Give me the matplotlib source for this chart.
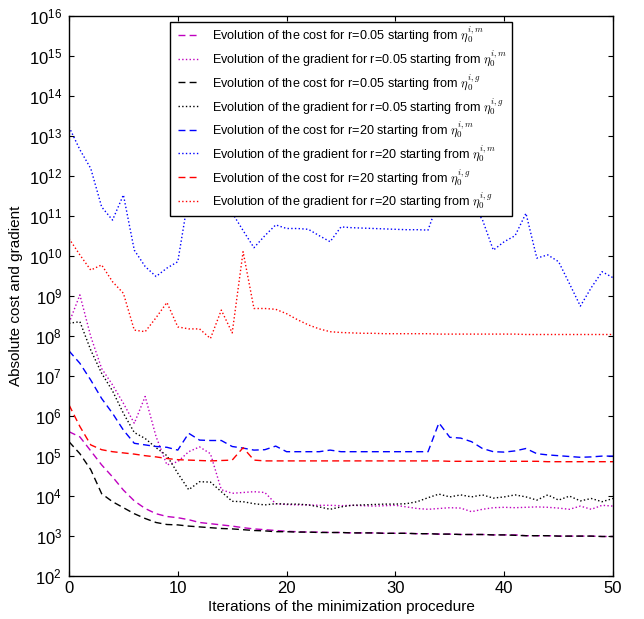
import numpy as np
import matplotlib
matplotlib.use("Agg")
import matplotlib.pyplot as plt
from matplotlib.patches import Rectangle
from matplotlib.ticker import NullLocator

plt.rcParams["font.family"] = ["Liberation Sans", "DejaVu Sans"]
plt.rcParams["mathtext.fontset"] = "cm"
plt.rcParams["xtick.direction"] = "in"
plt.rcParams["ytick.direction"] = "in"
plt.rcParams["xtick.top"] = True
plt.rcParams["ytick.right"] = True

iterations = np.arange(0, 51)
x_ticks = [0, 10, 20, 30, 40, 50]
y_decades = list(range(2, 17))

# log10 of the values
cost_r005_m = [5.6, 5.47, 5.12, 4.77, 4.47, 4.14, 3.87, 3.68, 3.55, 3.48, 3.45,
               3.4, 3.33, 3.3, 3.27, 3.24, 3.2, 3.17, 3.15, 3.13, 3.11,
               3.1, 3.09, 3.09, 3.08, 3.08, 3.07, 3.07, 3.07, 3.06, 3.06,
               3.06, 3.05, 3.05, 3.04, 3.04, 3.03, 3.03, 3.03, 3.02, 3.02,
               3.02, 3.0, 3.0, 3.0, 2.99, 2.99, 2.99, 2.99, 2.98, 2.98]
grad_r005_m = [8.32, 9.02, 7.98, 7.18, 6.77, 6.31, 5.81, 6.48, 5.48, 4.77, 4.85,
               5.1, 5.22, 5.05, 4.15, 4.06, 4.08, 4.1, 4.08, 3.8, 3.78,
               3.77, 3.77, 3.76, 3.76, 3.75, 3.76, 3.75, 3.74, 3.75, 3.76,
               3.72, 3.68, 3.66, 3.68, 3.7, 3.69, 3.6, 3.66, 3.7, 3.71,
               3.7, 3.71, 3.72, 3.71, 3.69, 3.66, 3.74, 3.66, 3.76, 3.74]
cost_r005_g = [5.35, 5.05, 4.65, 4.05, 3.85, 3.7, 3.55, 3.43, 3.33, 3.28, 3.27,
               3.24, 3.22, 3.2, 3.18, 3.17, 3.15, 3.13, 3.12, 3.1, 3.1,
               3.09, 3.09, 3.08, 3.08, 3.08, 3.07, 3.07, 3.07, 3.06, 3.06,
               3.06, 3.05, 3.05, 3.04, 3.04, 3.03, 3.03, 3.03, 3.02, 3.02,
               3.01, 3.0, 3.0, 3.0, 2.99, 2.99, 2.99, 2.99, 2.98, 2.98]
grad_r005_g = [8.31, 8.35, 7.64, 7.06, 6.62, 6.06, 5.58, 5.43, 5.2, 5.0, 4.56,
               4.15, 4.35, 4.34, 4.1, 3.86, 3.85, 3.8, 3.77, 3.8, 3.79,
               3.79, 3.77, 3.72, 3.66, 3.72, 3.76, 3.77, 3.78, 3.79, 3.79,
               3.8, 3.85, 3.95, 4.04, 3.97, 4.02, 3.97, 4.02, 3.94, 3.97,
               4.02, 3.97, 3.89, 4.02, 3.89, 3.99, 3.87, 3.93, 3.85, 3.93]
cost_r20_m = [7.62, 7.31, 6.89, 6.43, 6.06, 5.64, 5.31, 5.27, 5.23, 5.21, 5.14,
              5.56, 5.39, 5.38, 5.38, 5.23, 5.19, 5.14, 5.15, 5.24, 5.1,
              5.1, 5.1, 5.1, 5.14, 5.1, 5.1, 5.1, 5.1, 5.1, 5.1,
              5.1, 5.1, 5.1, 5.82, 5.46, 5.44, 5.35, 5.18, 5.1, 5.09,
              5.12, 5.18, 5.05, 5.02, 5.0, 4.98, 4.96, 4.97, 4.99, 4.99]
grad_r20_m = [13.22, 12.65, 12.18, 11.22, 10.89, 11.52, 10.14, 9.73, 9.48, 9.69, 9.85,
              11.5, 11.7, 11.4, 11.6, 11.07, 10.63, 10.2, 10.5, 10.77, 10.68,
              10.68, 10.66, 10.5, 10.35, 10.72, 10.7, 10.69, 10.68, 10.67, 10.66,
              10.65, 10.65, 10.64, 11.4, 11.7, 11.5, 11.3, 10.9, 10.14, 10.35,
              10.5, 11.06, 9.94, 10.02, 9.85, 9.3, 8.74, 9.2, 9.6, 9.45]
cost_r20_g = [6.27, 5.73, 5.27, 5.15, 5.1, 5.07, 5.04, 5.0, 4.97, 4.93, 4.9,
              4.89, 4.88, 4.87, 4.88, 4.89, 5.2, 4.89, 4.87, 4.87, 4.87,
              4.87, 4.87, 4.87, 4.87, 4.87, 4.87, 4.87, 4.87, 4.87, 4.87,
              4.87, 4.87, 4.87, 4.87, 4.86, 4.86, 4.86, 4.86, 4.86, 4.86,
              4.86, 4.86, 4.86, 4.85, 4.85, 4.85, 4.85, 4.85, 4.85, 4.85]
grad_r20_g = [10.43, 10.02, 9.64, 9.77, 9.35, 9.06, 8.14, 8.1, 8.45, 8.83, 8.22,
              8.17, 8.17, 7.93, 8.64, 8.07, 10.1, 8.68, 8.68, 8.66, 8.55,
              8.4, 8.27, 8.17, 8.1, 8.08, 8.07, 8.06, 8.06, 8.05, 8.05,
              8.05, 8.05, 8.05, 8.04, 8.04, 8.04, 8.04, 8.04, 8.04, 8.04,
              8.04, 8.03, 8.03, 8.03, 8.03, 8.03, 8.03, 8.03, 8.03, 8.03]

series = [
    (cost_r005_m, "m", "--", r"Evolution of the cost for r=0.05 starting from $\eta_0^{i,m}$"),
    (grad_r005_m, "m", ":", r"Evolution of the gradient for r=0.05 starting from $\eta_0^{i,m}$"),
    (cost_r005_g, "k", "--", r"Evolution of the cost for r=0.05 starting from $\eta_0^{i,g}$"),
    (grad_r005_g, "k", ":", r"Evolution of the gradient for r=0.05 starting from $\eta_0^{i,g}$"),
    (cost_r20_m, "b", "--", r"Evolution of the cost for r=20 starting from $\eta_0^{i,m}$"),
    (grad_r20_m, "b", ":", r"Evolution of the gradient for r=20 starting from $\eta_0^{i,m}$"),
    (cost_r20_g, "r", "--", r"Evolution of the cost for r=20 starting from $\eta_0^{i,g}$"),
    (grad_r20_g, "r", ":", r"Evolution of the gradient for r=20 starting from $\eta_0^{i,g}$"),
]
colors = {"m": (0.75, 0, 0.75), "k": "black", "b": "blue", "r": "red"}

fig = plt.figure(figsize=(6.44, 6.19), dpi=100, facecolor="white")
ax = fig.add_axes([69 / 644, 43.3 / 619, 544 / 644, 560 / 619])

for vals, c, ls, label in series:
    y = 10.0 ** np.array(vals)
    if ls == "--":
        ax.plot(iterations, y, color=colors[c], linestyle=(0, (5, 3)), linewidth=1, label=label)
    else:
        ax.plot(iterations, y, color=colors[c], linestyle=":", linewidth=1, label=label)

ax.set_yscale("log")
ax.set_xlim(0, 50)
ax.set_ylim(1e2, 1e16)
ax.set_xticks(x_ticks)
ax.set_yticks([10.0 ** k for k in y_decades])
ax.yaxis.set_minor_locator(NullLocator())
ax.tick_params(which="major", length=3.5, width=0.8, labelsize=12)
ax.tick_params(axis="x", pad=3.5)
ax.tick_params(axis="y", pad=5)
for s in ax.spines.values():
    s.set_linewidth(1.0)

ax.set_xlabel("Iterations of the minimization procedure", fontsize=11, labelpad=3)
ax.set_ylabel("Absolute cost and gradient", fontsize=11, labelpad=4)

# legend frame drawn separately so its box matches the reference
ax.add_patch(Rectangle((0.1857, 0.6423), 0.6286, 0.3465, transform=ax.transAxes,
                       facecolor="white", edgecolor="black", linewidth=1.0, zorder=4))
leg = ax.legend(loc="upper left", bbox_to_anchor=(0.2004, 0.9834), borderaxespad=0,
                borderpad=0, fontsize=9.1, handlelength=1.7, handletextpad=0.95,
                labelspacing=0.33, frameon=False)
leg.set_zorder(5)

fig.savefig("out.png", dpi=100, facecolor="white")
